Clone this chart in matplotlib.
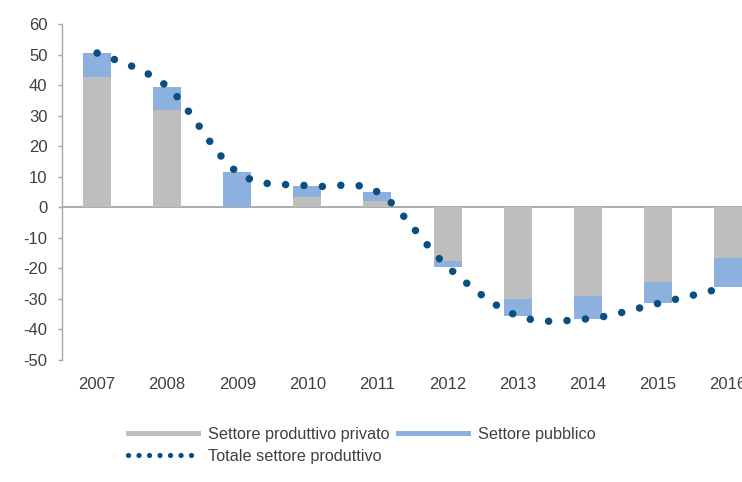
import numpy as np
import matplotlib
matplotlib.use("Agg")
import matplotlib.pyplot as plt
from matplotlib.path import Path
from matplotlib.patches import PathPatch
from matplotlib.lines import Line2D

plt.rcParams['font.family'] = ['Liberation Sans', 'DejaVu Sans']
plt.rcParams['axes.unicode_minus'] = False

years = ['2007', '2008', '2009', '2010', '2011', '2012', '2013', '2014', '2015', '2016']
privato = [42.5, 32, 0, 3.5, 2, -17.5, -30, -29, -24.5, -16.5]
pubblico = [8, 7.5, 11.5, 3.5, 3, -2, -5.5, -7.5, -7, -9.5]

col_priv = '#BEBEBE'
col_pubb = '#8DB1DE'
col_tot = '#0B4F82'
col_axis = '#A6A6A6'

priv = np.array(privato)
pubb = np.array(pubblico)
totale = priv + pubb
x = np.arange(len(years))

fig = plt.figure(figsize=(7.42, 4.82), dpi=100)
ax = fig.add_axes([0.0836, 0.2531, 0.9447, 0.6971])

ax.bar(x, priv, width=0.4, color=col_priv, zorder=2)
ax.bar(x, pubb, width=0.4, bottom=priv, color=col_pubb, zorder=2)

# smoothed total line: cubic bezier segments through the yearly totals
verts = [(x[0], totale[0])]
codes = [Path.MOVETO]
n = len(x)
for i in range(n - 1):
    p0 = np.array([x[max(i - 1, 0)], totale[max(i - 1, 0)]])
    p1 = np.array([x[i], totale[i]])
    p2 = np.array([x[i + 1], totale[i + 1]])
    p3 = np.array([x[min(i + 2, n - 1)], totale[min(i + 2, n - 1)]])
    c1 = p1 + (p2 - p0) / 6.0
    c2 = p2 - (p3 - p1) / 6.0
    verts += [tuple(c1), tuple(c2), tuple(p2)]
    codes += [Path.CURVE4] * 3
curve = PathPatch(Path(verts, codes), fill=False, edgecolor=col_tot, lw=5.4,
                  linestyle=(0, (0.01, 2.45)), capstyle='round', zorder=3)
ax.add_patch(curve)

ax.axhline(0, color=col_axis, lw=1.3, zorder=1)

ax.set_xlim(-0.5, n - 0.5)
ax.set_ylim(-50, 60)
ax.set_yticks(range(-50, 61, 10))
ax.set_xticks(x)
ax.set_xticklabels(years)

for s in ['top', 'right', 'bottom']:
    ax.spines[s].set_visible(False)
ax.spines['left'].set_color(col_axis)
ax.spines['left'].set_linewidth(1)
ax.tick_params(axis='y', length=3, width=1, color=col_axis, pad=7.5,
               labelsize=12, labelcolor='#404040')
ax.tick_params(axis='x', length=0, pad=12, labelsize=12, labelcolor='#404040')

h_priv = Line2D([], [], color=col_priv, lw=3.6)
h_pubb = Line2D([], [], color=col_pubb, lw=3.6)
h_tot = Line2D([], [], color=col_tot, lw=3.8, linestyle=(0, (0.01, 1.98)),
               dash_capstyle='round')
fig.legend([h_priv, h_tot, h_pubb],
           ['Settore produttivo privato', 'Totale settore produttivo', 'Settore pubblico'],
           ncol=2, loc='upper left', bbox_to_anchor=(0.1725, 0.114),
           frameon=False, fontsize=11.7, handlelength=4.3, handletextpad=0.6,
           columnspacing=0.55, labelspacing=0.42, borderpad=0, borderaxespad=0,
           labelcolor='#404040')

fig.savefig('out.png', dpi=100)
